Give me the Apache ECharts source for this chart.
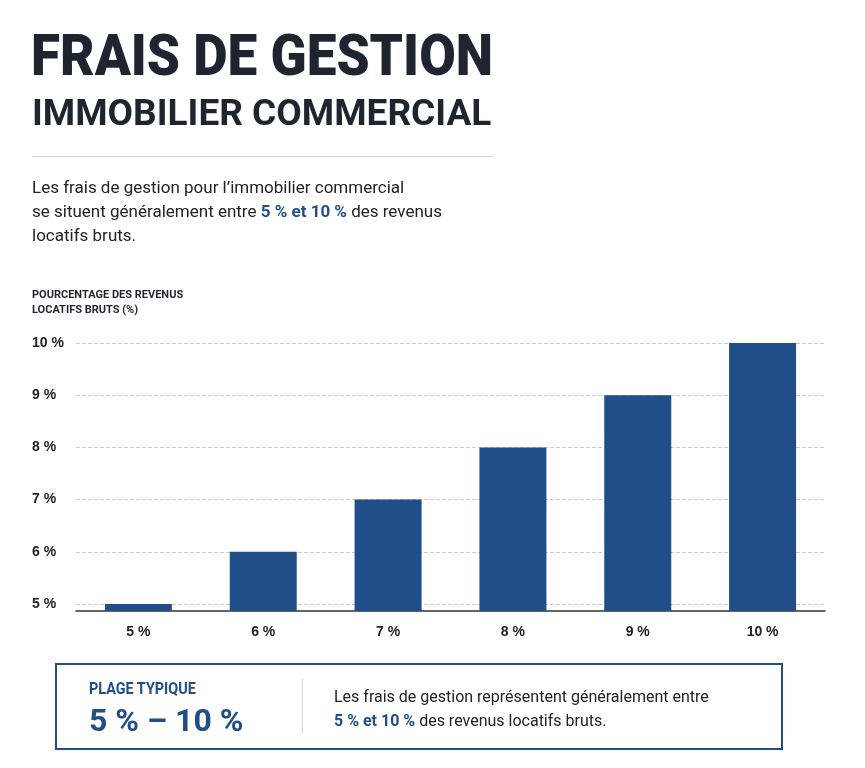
<!DOCTYPE html>
<html><head><meta charset="utf-8">
<script src="https://cdn.jsdelivr.net/npm/echarts@6/dist/echarts.min.js"></script>
<style>
body{margin:0;width:865px;height:768px;background:#fff;font-family:Roboto,"Liberation Sans",sans-serif;position:relative;overflow:hidden;color:#1e2530}
.t1{position:absolute;left:31px;top:20px;font-size:58px;line-height:70px;font-weight:900;transform:scaleX(0.915);transform-origin:left;white-space:nowrap}
.t2{position:absolute;left:32px;top:88px;font-size:37px;line-height:50px;font-weight:700;white-space:nowrap}
.hr{position:absolute;left:32px;top:156px;width:462px;height:1px;background:#d5d8dc}
.p{position:absolute;left:32px;top:175px;font-size:17px;line-height:24px;color:#222}
b.bl{color:#1f4e89}
.yt{position:absolute;left:32px;top:287px;font-size:11px;font-weight:700;line-height:15px}
#c{position:absolute;left:0;top:0;width:865px;height:768px}
.box{position:absolute;left:55px;top:663px;width:724px;height:83px;border:2px solid #1f4e89}
.pl{position:absolute;left:32px;top:14px;font-size:16px;font-weight:700;color:#1f4e89;transform:scaleX(0.9);transform-origin:left}
.rg{position:absolute;left:32px;top:36px;font-size:32px;font-weight:700;color:#1f4e89}
.sep{position:absolute;left:245px;top:14px;width:1px;height:55px;background:#d5d8dc}
.bt{position:absolute;left:277px;top:20px;font-size:16px;line-height:24px;color:#222}
</style></head><body>
<div id="c"></div>
<div class="t1">FRAIS DE GESTION</div>
<div class="t2">IMMOBILIER COMMERCIAL</div>
<div class="hr"></div>
<div class="p">Les frais de gestion pour l’immobilier commercial<br>se situent généralement entre <b class="bl">5 % et 10 %</b> des revenus<br>locatifs bruts.</div>
<div class="yt">POURCENTAGE DES REVENUS<br>LOCATIFS BRUTS (%)</div>
<div class="box"><div class="pl">PLAGE TYPIQUE</div><div class="rg">5 % – 10 %</div><div class="sep"></div>
<div class="bt">Les frais de gestion représentent généralement entre<br><b class="bl">5 % et 10 %</b> des revenus locatifs bruts.</div></div>
<script>
const categories=['5 %','6 %','7 %','8 %','9 %','10 %'];
const values=[5,6,7,8,9,10];
const yTicks=[5,6,7,8,9,10];
const ch=echarts.init(document.getElementById('c'));
ch.setOption({
 animation:false,
 grid:{left:76,right:40,top:343,bottom:157,containLabel:false},
 xAxis:{type:'category',data:categories,axisLine:{lineStyle:{color:'#333',width:1.5}},axisTick:{show:false},
  axisLabel:{color:'#222',fontSize:14,fontWeight:'bold',margin:14}},
 yAxis:{type:'value',min:4.865,max:10,
  axisLine:{show:false},
  axisTick:{show:false,customValues:yTicks},
  axisLabel:{customValues:yTicks,formatter:v=>Math.round(v)+' %',color:'#222',fontSize:14,fontWeight:'bold',margin:44,align:'left'},
  splitLine:{show:true,lineStyle:{type:'dashed',color:'#c8cbd0'}}},
 series:[{type:'bar',data:values,barWidth:67,itemStyle:{color:'#1f4e89'}}]
});
</script>
</body></html>
